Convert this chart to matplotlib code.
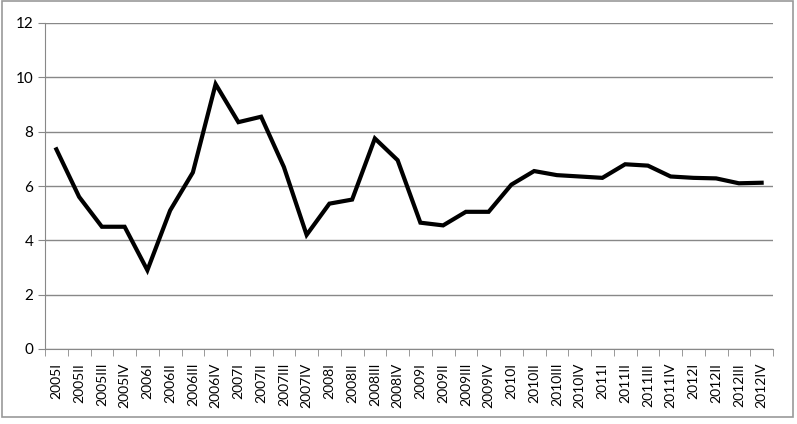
import matplotlib
matplotlib.use("Agg")
import numpy as np
from matplotlib import pyplot as plt
from matplotlib.patches import Rectangle

years = ['2005', '2006', '2007', '2008', '2009', '2010', '2011', '2012']
quarters = ['I', 'II', 'III', 'IV']
labels = [y + q for y in years for q in quarters]
values = [7.35, 5.6, 4.5, 4.5,
          2.9, 5.1, 6.5, 9.75,
          8.35, 8.55, 6.7, 4.2,
          5.35, 5.5, 7.75, 6.95,
          4.65, 4.55, 5.05, 5.05,
          6.05, 6.55, 6.4, 6.35,
          6.3, 6.8, 6.75, 6.35,
          6.3, 6.28, 6.1, 6.12]
yticks = [0, 2, 4, 6, 8, 10, 12]

plt.rcParams['font.family'] = ['Lato', 'DejaVu Sans']

fig = plt.figure(figsize=(7.97, 4.24), dpi=100)
ax = fig.add_axes([45 / 797, 1 - 349 / 424, (773 - 45) / 797, (349 - 23) / 424])

x = np.arange(len(values))
ax.plot(x, values, color='black', linewidth=3, solid_joinstyle='miter')

ax.set_xlim(-0.5, len(values) - 0.5)
ax.set_ylim(0, 12)
ax.set_yticks(yticks)
ax.set_xticks(x)
ax.set_xticklabels(labels, rotation=90, fontsize=10)
ax.set_xticks(np.arange(len(values) + 1) - 0.5, minor=True)
ax.tick_params(axis='x', which='major', length=0, pad=10)
ax.tick_params(axis='x', which='minor', length=5, color='#888888')
ax.tick_params(axis='y', length=5, color='#888888', labelsize=11)

ax.yaxis.grid(True, color='#888888', linewidth=1)
ax.set_axisbelow(True)
for s in ['top', 'right']:
    ax.spines[s].set_visible(False)
for s in ['left', 'bottom']:
    ax.spines[s].set_color('#888888')

fig.patches.append(Rectangle((2 / 797, 1 - 417 / 424), 791 / 797, 416 / 424,
                             transform=fig.transFigure, fill=False,
                             edgecolor='#999999', linewidth=1.2))

fig.savefig('out.png', dpi=100)
